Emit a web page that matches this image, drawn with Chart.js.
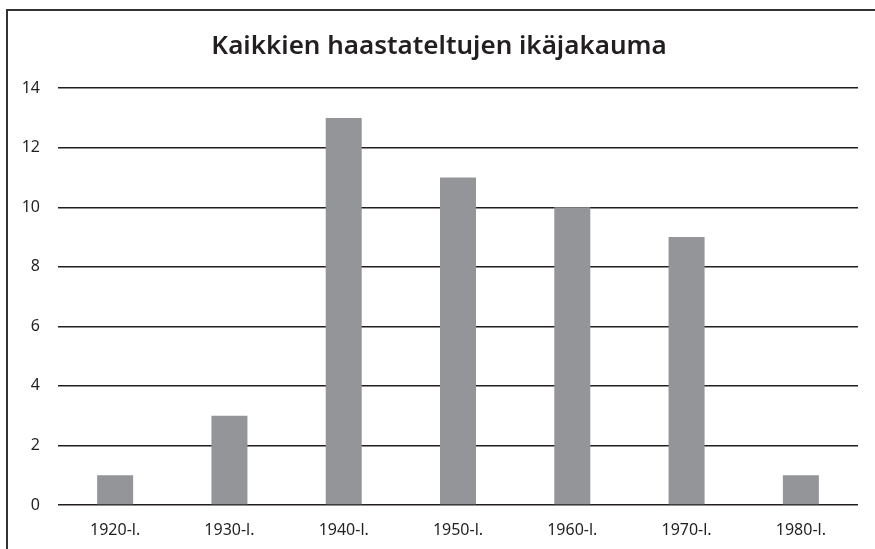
<!DOCTYPE html>
<html>
<head>
<meta charset="utf-8">
<script src="https://cdn.jsdelivr.net/npm/chart.js@4"></script>
<style>
  html, body { margin: 0; padding: 0; background: #fff; }
  #wrap { position: relative; width: 875px; height: 549px; overflow: hidden; }
  #chart { display: block; }
  #frame { position: absolute; left: 6px; top: 9px; width: 900px; height: 600px;
           border-left: 2px solid #333; border-top: 2px solid #333; box-sizing: border-box; }
</style>
</head>
<body>
<div id="wrap">
  <canvas id="chart" width="875" height="549"></canvas>
  <div id="frame"></div>
</div>
<script>
const decades = ['1920-l.', '1930-l.', '1940-l.', '1950-l.', '1960-l.', '1970-l.', '1980-l.'];
const counts = [1, 3, 13, 11, 10, 9, 1];
const yMax = 14;
const yStep = 2;

const fontFamily = '"Noto Sans", "Open Sans", sans-serif';

const ctx = document.getElementById('chart').getContext('2d');
new Chart(ctx, {
    type: 'bar',
    data: {
        labels: decades,
        datasets: [{
            label: 'Haastatellut',
            data: counts,
            backgroundColor: '#939598',
            borderWidth: 0,
            barPercentage: 0.63,
            categoryPercentage: 0.5
        }]
    },
    options: {
        responsive: false,
        animation: false,
        layout: { padding: { left: 20, right: 17, top: 0, bottom: 10 } },
        plugins: {
            legend: { display: false },
            tooltip: { enabled: false },
            title: {
                display: true,
                text: 'Kaikkien haastateltujen ikäjakauma',
                color: '#231f20',
                font: { family: fontFamily, size: 26, weight: '600' },
                padding: { top: 31, bottom: 26 }
            }
        },
        scales: {
            x: {
                grid: { display: false, drawTicks: false },
                border: { display: false },
                afterFit: function (scale) { scale.height = 34; },
                ticks: {
                    color: '#231f20',
                    font: { family: fontFamily, size: 16 },
                    padding: 16,
                    maxRotation: 0
                }
            },
            y: {
                min: 0,
                max: yMax,
                grid: { color: '#231f20', lineWidth: 1.5, drawTicks: false },
                border: { display: false },
                afterFit: function (scale) { scale.width = 38; },
                ticks: {
                    stepSize: yStep,
                    color: '#231f20',
                    font: { family: fontFamily, size: 16 },
                    padding: 18
                }
            }
        }
    }
});
</script>
</body>
</html>
